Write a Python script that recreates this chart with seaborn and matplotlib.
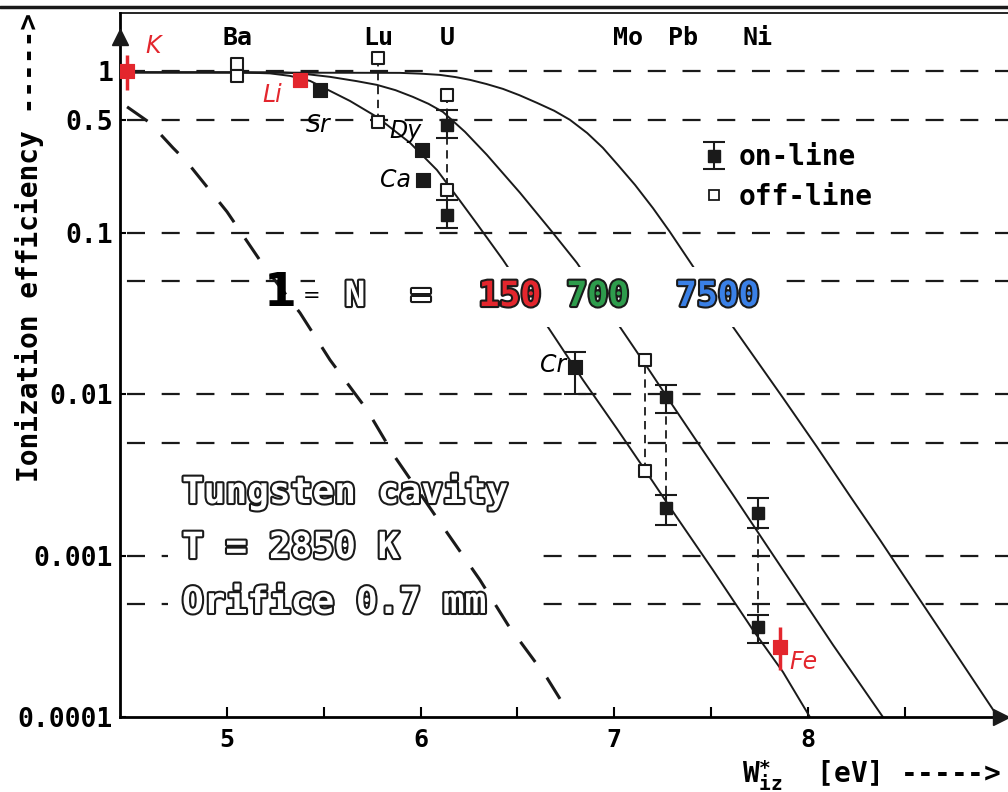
import matplotlib
matplotlib.use("Agg")
import matplotlib.pyplot as plt
import matplotlib.patheffects as pe
from matplotlib.lines import Line2D
from matplotlib.patches import Rectangle
from matplotlib.ticker import NullLocator
import seaborn as sns

# theory curves: W*iz [eV] vs ionization efficiency
n1_w = [4.484, 4.602, 4.721, 4.793, 5.000, 5.186, 5.377, 5.532, 5.723, 5.867,
        6.115, 6.306, 6.451, 6.652, 6.771]
n1_eff = [0.603, 0.480, 0.336, 0.275, 0.135, 0.0633, 0.0319, 0.0163, 0.0080,
          0.00409, 0.00151, 0.000707, 0.000372, 0.000175, 0.000103]

n150_w = [4.448, 5.067, 5.222, 5.325, 5.429, 5.532, 5.635, 5.774, 5.945, 6.084,
          6.203, 6.291, 6.425, 6.657, 6.838, 7.014, 7.148, 7.303, 7.509, 7.716,
          7.871, 8.010]
n150_eff = [0.986, 0.986, 0.972, 0.938, 0.873, 0.757, 0.656, 0.522, 0.361, 0.245,
            0.158, 0.1135, 0.0680, 0.0261, 0.01226, 0.0061, 0.00354, 0.00187,
            0.000815, 0.000346, 0.000190, 0.0001]

n700_w = [4.448, 5.274, 5.377, 5.532, 5.670, 5.774, 5.870, 5.960, 6.040, 6.115,
          6.229, 6.342, 6.513, 6.683, 6.807, 7.029, 7.169, 7.303, 7.442, 7.613,
          7.768, 7.923, 8.129, 8.387]
n700_eff = [0.986, 0.986, 0.972, 0.925, 0.870, 0.825, 0.765, 0.695, 0.630, 0.561,
            0.422, 0.304, 0.177, 0.0999, 0.0651, 0.0261, 0.01476, 0.00846,
            0.00478, 0.00238, 0.00125, 0.000658, 0.000280, 0.0001]

n7500_w = [4.448, 5.893, 6.000, 6.100, 6.180, 6.255, 6.340, 6.425, 6.510, 6.601,
           6.690, 6.771, 6.860, 6.941, 7.020, 7.107, 7.200, 7.287, 7.401, 7.613,
           7.871, 8.046, 8.217, 8.372, 8.475, 8.682, 8.981]
n7500_eff = [0.986, 0.979, 0.968, 0.951, 0.922, 0.886, 0.835, 0.779, 0.712, 0.638,
             0.570, 0.501, 0.415, 0.336, 0.262, 0.198, 0.142, 0.1013, 0.0633,
             0.0261, 0.00949, 0.00472, 0.00234, 0.00125, 0.000815, 0.000346,
             0.0001]

# measurements
offline_w = [5.052, 5.052, 5.780, 5.780, 6.136, 6.136, 7.158, 7.158]
offline_eff = [1.11, 0.94, 1.21, 0.487, 0.715, 0.184, 0.0163, 0.00335]

online_w = [6.136, 6.136, 7.268, 7.268, 7.742, 7.742, 6.797]
online_eff = [0.466, 0.129, 0.00962, 0.00198, 0.00184, 0.000362, 0.0148]
online_lo = [0.387, 0.107, 0.00766, 0.00155, 0.00148, 0.000288, 0.0100]
online_hi = [0.577, 0.160, 0.0114, 0.00238, 0.00228, 0.000429, 0.0183]

link_w = [5.780, 6.136, 7.158, 7.268, 7.742]
link_lo = [0.487, 0.107, 0.00335, 0.00198, 0.000362]
link_hi = [1.21, 0.715, 0.0163, 0.00962, 0.00184]

# hand-added points
hand_names = ["Sr", "Dy", "Ca", "Cr"]
hand_w = [5.480, 6.007, 6.012, 6.797]
hand_eff = [0.768, 0.326, 0.213, 0.0148]
hand_off = [(-1, -25), (-12, 14), (-20, 0), (-16, 1)]

red_names = ["K", "Li", "Fe"]
red_w = [4.484, 5.377, 7.855]
red_eff = [1.0, 0.885, 0.000272]
red_lo = [0.768, 0.885, 0.000196]
red_hi = [1.265, 0.885, 0.000362]
red_off = [(19, 18), (-20, -11), (17, -11)]

elements = ["Ba", "Lu", "U", "Mo", "Pb", "Ni"]
element_w = [5.052, 5.780, 6.136, 7.070, 7.354, 7.742]

grid_levels = [1, 0.5, 0.1, 0.05, 0.01, 0.005, 0.001, 0.0005]
ytick_vals = [1, 0.5, 0.1, 0.01, 0.001, 0.0001]
ytick_labels = ["1", "0.5", "0.1", "0.01", "0.001", "0.0001"]

sns.set_theme(style="white")
plt.rcParams["font.family"] = ["DejaVu Sans Mono", "DejaVu Sans"]
plt.rcParams["font.weight"] = "bold"
plt.rcParams["lines.scale_dashes"] = False
plt.rcParams["mathtext.fontset"] = "custom"
plt.rcParams["mathtext.bf"] = "DejaVu Sans Mono:bold"
plt.rcParams["mathtext.rm"] = "DejaVu Sans Mono:bold"
for key in ["text.color", "axes.labelcolor", "xtick.color", "ytick.color",
            "axes.edgecolor"]:
    plt.rcParams[key] = "black"

RED = "#e3262d"
fig = plt.figure(figsize=(10.08, 7.92), dpi=100)
ax = fig.add_axes([120 / 1008, 75 / 792, 888 / 1008, 704 / 792])
ax.set_yscale("log")
ax.set_xlim(4.4475, 9.033)
ax.set_ylim(1e-4, 2.30)

for lev in grid_levels:
    ax.axhline(lev, color="k", lw=1.6, ls=(20, (13, 12)), zorder=1)

# curves
for w, eff in [(n150_w, n150_eff), (n700_w, n700_eff), (n7500_w, n7500_eff)]:
    sns.lineplot(x=w, y=eff, ax=ax, color="k", lw=1.4, sort=False,
                 estimator=None, zorder=2)
sns.lineplot(x=n1_w, y=n1_eff, ax=ax, color="k", lw=2.2, sort=False,
             estimator=None, zorder=3, ls=(0, (18, 14)))

# white boxes under the texts
ax.add_patch(Rectangle((0.054, 0.131), 0.41, 0.22, transform=ax.transAxes,
                       facecolor="white", edgecolor="none", zorder=1.5))
ax.add_patch(Rectangle((0.22, 0.554), 0.527, 0.085, transform=ax.transAxes,
                       facecolor="white", edgecolor="none", zorder=2.5))

ax.vlines(link_w, link_lo, link_hi, colors="k", lw=1.3,
          linestyles=[(0, (6, 4))], zorder=4)

sns.scatterplot(x=offline_w, y=offline_eff, ax=ax, marker="s", s=70,
                facecolor="white", edgecolor="k", linewidth=1.5, zorder=6)
eb = ax.errorbar(online_w, online_eff,
                 yerr=[[e - l for e, l in zip(online_eff, online_lo)],
                       [h - e for e, h in zip(online_eff, online_hi)]],
                 fmt="s", ms=8, mfc="k", mec="k", ecolor="k", elinewidth=1.5,
                 capsize=8, capthick=1.5, zorder=6)

sns.scatterplot(x=hand_w, y=hand_eff, ax=ax, marker="s", s=100, color="k",
                edgecolor="k", zorder=6)
for name, w, e, off in zip(hand_names, hand_w, hand_eff, hand_off):
    ax.annotate(name, (w, e), xytext=off, textcoords="offset points",
                ha="center", va="center", fontsize=17, fontweight="normal",
                family="DejaVu Sans", style="italic", zorder=7)

ax.errorbar(red_w, red_eff,
            yerr=[[e - l for e, l in zip(red_eff, red_lo)],
                  [h - e for e, h in zip(red_eff, red_hi)]],
            fmt="none", ecolor=RED, elinewidth=2.5, capsize=0, zorder=6)
sns.scatterplot(x=red_w, y=red_eff, ax=ax, marker="s", s=110, color=RED,
                edgecolor=RED, zorder=6)
for name, w, e, off in zip(red_names, red_w, red_eff, red_off):
    ax.annotate(name, (w, e), xytext=off, textcoords="offset points",
                ha="center", va="center", fontsize=17, color=RED,
                fontweight="normal", family="DejaVu Sans", style="italic",
                zorder=7)

for name, w in zip(elements, element_w):
    ax.text(w, 0.9645, name, transform=ax.get_xaxis_transform(), ha="center",
            va="center", fontsize=18)

# hollow-style labels
def hollow(x, y, s, fill="white", size=26):
    ax.text(x, y, s, transform=ax.transAxes, ha="left", va="center",
            fontsize=size, color=fill, zorder=8,
            path_effects=[pe.withStroke(linewidth=3, foreground="k")])

hollow(0.0698, 0.3196, "Tungsten cavity")
hollow(0.0698, 0.240, "T = 2850 K")
hollow(0.0698, 0.162, "Orifice 0.7 mm")

ax.text(0.180, 0.601, "1", transform=ax.transAxes, ha="center", va="center",
        fontsize=34, fontweight="heavy", family="DejaVu Sans", zorder=8)
ax.text(0.216, 0.598, "=", transform=ax.transAxes, ha="center", va="center",
        fontsize=15, fontweight="normal", family="DejaVu Sans", zorder=8)
for x, s, c in [(0.2646, "N", "white"), (0.339, "=", "white"),
                (0.439, "150", RED), (0.538, "700", "#2e9c4c"),
                (0.673, "7500", "#3a80e6")]:
    ax.text(x, 0.598, s, transform=ax.transAxes, ha="center", va="center",
            fontsize=25, color=c, zorder=8,
            path_effects=[pe.withStroke(linewidth=3, foreground="k")])

# legend
off_handle = Line2D([], [], ls="none", marker="s", ms=7, mfc="white",
                    mec="k", mew=1.3)
ax.legend([eb, off_handle], ["on-line", "off-line"], loc="upper left",
          bbox_to_anchor=(0.6577, 0.815), frameon=False, fontsize=20,
          handlelength=0.7, handletextpad=0.55, labelspacing=0.42,
          borderpad=0, borderaxespad=0, labelcolor="black")

# axes decoration
ax.set_yticks(ytick_vals)
ax.set_yticklabels(ytick_labels)
ax.yaxis.set_minor_locator(NullLocator())
ax.set_xticks([5, 6, 7, 8])
ax.set_xticks([5.5, 6.5, 7.5, 8.5], minor=True)
ax.tick_params(axis="x", which="both", direction="in", length=7, width=1.5,
               pad=8, labelsize=18, bottom=True)
ax.tick_params(axis="y", direction="in", length=4, width=1.5, pad=5,
               labelsize=19, left=True)
ax.spines["right"].set_visible(False)
ax.spines["top"].set_linewidth(1.2)
ax.spines["left"].set_linewidth(2)
ax.spines["bottom"].set_linewidth(2)
ax.set_xlabel("")
ax.set_ylabel("")
ax.plot([0], [0.966], marker="^", ms=11, color="k", transform=ax.transAxes,
        clip_on=False, zorder=9)
ax.plot([0.992], [0], marker=">", ms=11, color="k", transform=ax.transAxes,
        clip_on=False, zorder=9)

fig.text(30 / 1008, 1 - 247 / 792, "Ionization efficiency ----->",
         rotation=90, ha="center", va="center", fontsize=20)
fig.text(742 / 1008, 1 - 776 / 792,
         r"$\mathbf{W}^{\ast}_{\mathbf{iz}}$  [eV] ----->",
         ha="left", va="center", fontsize=20)
fig.add_artist(Line2D([0, 1], [1 - 6.5 / 792] * 2, color="k", lw=2.5,
                      transform=fig.transFigure))

fig.savefig("out.png", dpi=100, facecolor="white")
